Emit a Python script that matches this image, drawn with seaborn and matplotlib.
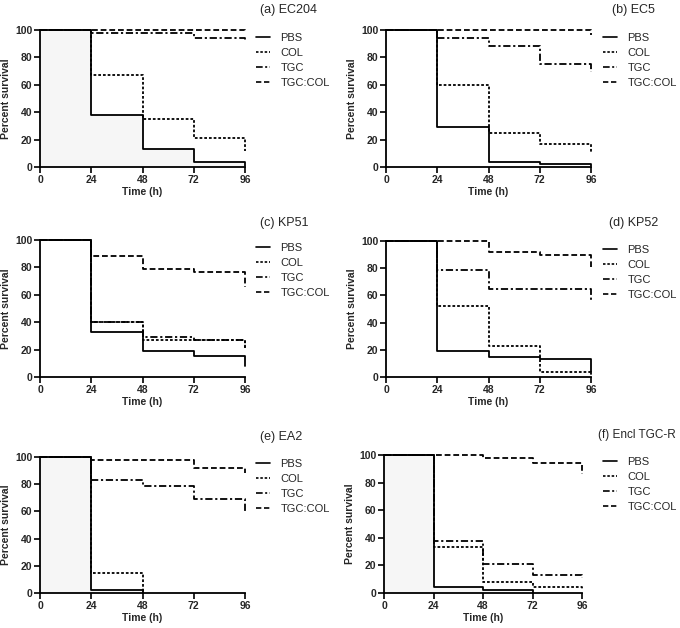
import numpy as np
import pandas as pd
import matplotlib
matplotlib.use("Agg")
import matplotlib.pyplot as plt
from matplotlib.lines import Line2D
import seaborn as sns

sns.set_theme(style="ticks")
plt.rcParams['font.family'] = ['Liberation Sans', 'DejaVu Sans']

groups = ["PBS", "COL", "TGC", "TGC:COL"]
panel_titles = ["(a) EC204", "(b) EC5", "(c) KP51", "(d) KP52", "(e) EA2", "(f) Encl TGC-R"]

T_FULL = [0, 24, 48, 72, 96, 96]

# (a) EC204
ec204_pbs = [100, 38, 13, 4, 4, 1]
ec204_col = [100, 67, 35, 21, 21, 12]
ec204_tgc = [100, 98, 98, 94, 94, 92]
ec204_tgccol = [100, 100, 100, 100, 100, 98]
# (b) EC5
ec5_pbs = [100, 29, 4, 2, 2, 1]
ec5_col = [100, 60, 25, 17, 17, 11]
ec5_tgc = [100, 94, 88, 75, 75, 69]
ec5_tgccol = [100, 100, 100, 100, 100, 96]
# (c) KP51
kp51_pbs = [100, 33, 19, 15, 15, 8]
kp51_col = [100, 40, 27, 27, 27, 21]
kp51_tgc = [100, 40, 29, 27, 27, 21]
kp51_tgccol = [100, 88, 79, 77, 77, 66]
# (d) KP52
kp52_pbs = [100, 19, 15, 13, 13, 2]
kp52_col = [100, 52, 23, 4, 4, 3]
kp52_tgc = [100, 79, 65, 65, 65, 56]
kp52_tgccol = [100, 100, 92, 90, 90, 81]
# (e) EA2
ea2_pbs_t = [0, 24, 48, 48]
ea2_pbs = [100, 2, 2, 0]
ea2_col_t = [0, 24, 48, 48]
ea2_col = [100, 15, 15, 0]
ea2_tgc = [100, 83, 79, 69, 69, 59]
ea2_tgccol = [100, 98, 98, 92, 92, 88]
# (f) Encl TGC-R
encl_pbs_t = [0, 24, 48, 72, 72]
encl_pbs = [100, 4, 2, 2, 0]
encl_col = [100, 33, 8, 4, 4, 2]
encl_tgc = [100, 38, 21, 13, 13, 11]
encl_tgccol = [100, 100, 98, 94, 94, 86]

panels = [
    [(T_FULL, ec204_pbs), (T_FULL, ec204_col), (T_FULL, ec204_tgc), (T_FULL, ec204_tgccol)],
    [(T_FULL, ec5_pbs), (T_FULL, ec5_col), (T_FULL, ec5_tgc), (T_FULL, ec5_tgccol)],
    [(T_FULL, kp51_pbs), (T_FULL, kp51_col), (T_FULL, kp51_tgc), (T_FULL, kp51_tgccol)],
    [(T_FULL, kp52_pbs), (T_FULL, kp52_col), (T_FULL, kp52_tgc), (T_FULL, kp52_tgccol)],
    [(ea2_pbs_t, ea2_pbs), (ea2_col_t, ea2_col), (T_FULL, ea2_tgc), (T_FULL, ea2_tgccol)],
    [(encl_pbs_t, encl_pbs), (T_FULL, encl_col), (T_FULL, encl_tgc), (T_FULL, encl_tgccol)],
]
shade_pbs = [True, False, False, False, True, True]

dashes = {"PBS": "", "COL": (1.5, 1.1), "TGC": (4, 1.5, 1.2, 1.5), "TGC:COL": (3.2, 1.6)}
palette = {g: "black" for g in groups}

W, H = 680, 628
fig = plt.figure(figsize=(W / 100, H / 100), dpi=100)

# axes boxes in pixels: left, top, right, bottom
boxes = [
    (40, 30, 245, 167), (386, 30, 591, 167),
    (40, 240, 245, 377), (386, 241, 591, 377),
    (40, 457, 245, 593), (384, 455, 582, 593),
]
title_pos = [(260, 10), (612, 10), (260, 223), (609, 223), (260, 437), (598, 435)]
title_size = [9, 9, 9, 9, 9, 8.5]
legend_pos = [(256, 33), (603, 33), (256, 243), (603, 245), (256, 459), (603, 457)]

for i, (box, series) in enumerate(zip(boxes, panels)):
    l, t, r, b = box
    ax = fig.add_axes([l / W, 1 - b / H, (r - l) / W, (b - t) / H])
    rows = []
    for g, (tt, vv) in zip(groups, series):
        for k, (x, y) in enumerate(zip(tt, vv)):
            rows.append({"group": g, "time": x, "surv": y, "k": k})
    df = pd.DataFrame(rows)
    if shade_pbs[i]:
        p = df[df.group == "PBS"]
        ax.fill_between(p.time, p.surv, 0, step="post", color="#f6f6f6", lw=0, zorder=0)
    sns.lineplot(data=df, x="time", y="surv", hue="group", style="group",
                 palette=palette, dashes=dashes, estimator=None, sort=False,
                 drawstyle="steps-post", linewidth=1.3, legend=False, ax=ax,
                 clip_on=False, hue_order=groups, style_order=groups)
    ax.set_xlim(0, 96)
    ax.set_ylim(0, 100)
    ax.set_xticks([0, 24, 48, 72, 96])
    ax.set_yticks([0, 20, 40, 60, 80, 100])
    for s in ["top", "right"]:
        ax.spines[s].set_visible(False)
    for s in ["left", "bottom"]:
        ax.spines[s].set_linewidth(1.3)
        ax.spines[s].set_color("black")
    ax.tick_params(axis="both", direction="out", length=4, width=1.2, color="black",
                   labelsize=7.5, pad=1.5)
    for lab in ax.get_xticklabels() + ax.get_yticklabels():
        lab.set_fontweight("bold")
    ax.set_xlabel("Time (h)", fontsize=7.5, fontweight="bold", labelpad=2)
    ax.set_ylabel("Percent survival", fontsize=7.5, fontweight="bold", labelpad=3)
    ax.set_facecolor("white")

    tx, ty = title_pos[i]
    fig.text(tx / W, 1 - ty / H, panel_titles[i], fontsize=title_size[i], va="center", ha="left")

    handles = [Line2D([], [], color="black", lw=1.2,
                      linestyle="-" if dashes[g] == "" else (0, dashes[g])) for g in groups]
    lx, ly = legend_pos[i]
    ax.legend(handles, groups, loc="upper left", bbox_to_anchor=(lx / W, 1 - ly / H),
              bbox_transform=fig.transFigure, frameon=False, fontsize=8,
              handlelength=1.3, handletextpad=0.9, labelspacing=0.45,
              borderaxespad=0, borderpad=0)

fig.savefig("out.png", dpi=100, facecolor="white")
